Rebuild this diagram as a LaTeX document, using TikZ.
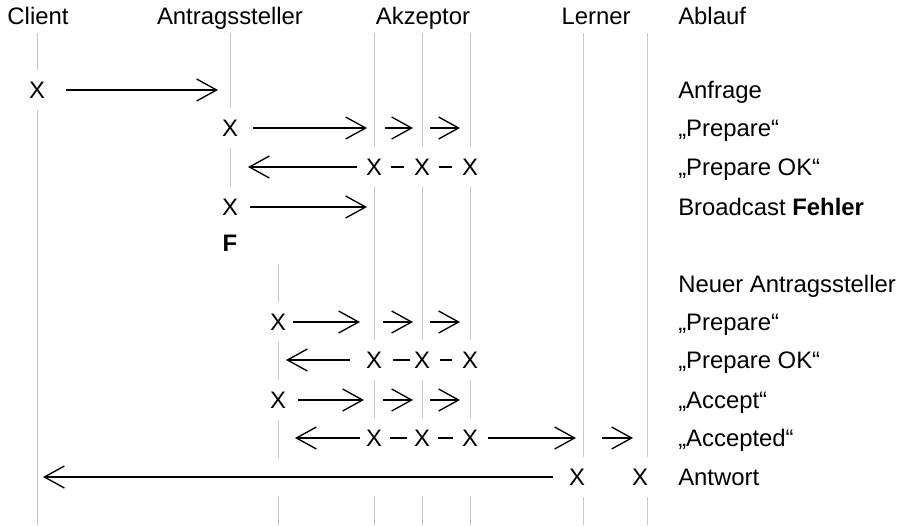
\documentclass[tikz,border=0pt]{standalone}
\usepackage{fontspec}
\setmainfont{Liberation Sans}
\usetikzlibrary{arrows.meta,positioning}

\begin{document}
\begin{tikzpicture}[
  x=0.75pt, y=-0.75pt,
  font=\fontsize{17.9pt}{21pt}\selectfont,
  txt/.style={inner sep=0pt, text height=12.8pt, text depth=0pt},
  head/.style={txt},
  lab/.style={txt, anchor=west},
  cross/.style={txt, fill=white, minimum height=30pt},
  life/.style={draw=black!22, line width=0.75pt},
  msg/.style={-{Straight Barb[length=15pt, width=16.5pt, line width=1pt]}, line width=1.5pt},
  dashlink/.style={line width=1.5pt},
  band/.style={draw=white, line width=28pt}
]
\useasboundingbox (0,0) rectangle (902,525);

% ---------------- lifelines ----------------
\coordinate (cl)  at (37,33);
\coordinate (as)  at (230,33);
\coordinate (nas) at (278,264);
\coordinate (ak1) at (374,33);
\coordinate (ak2) at (422,33);
\coordinate (ak3) at (470,33);
\coordinate (le1) at (583,33);
\coordinate (le2) at (647,33);
\coordinate (bot) at (0,525);

\foreach \p in {cl,nas,ak1,ak2,ak3,le1,le2}
  \draw[life] (\p) -- (\p |- bot);
\draw[life] (as) -- (230,187);

% ---------------- headings ----------------
\node[head] (hcl) at (38,16) {Client};
\node[head] (has) at (230,16) {Antragssteller};
\node[head] (hak) at (423,16) {Akzeptor};
\node[head] (hle) at (596,16) {Lerner};
\node[lab]  (hab) at (678,16) {Ablauf};

% ---------------- Ablauf column ----------------
\node[lab] (r1)  at (678,90)  {Anfrage};
\node[lab] (r2)  at (678,128) {„Prepare“};
\node[lab] (r3)  at (678,167) {„Prepare OK“};
\node[lab] (r4)  at (678,207) {Broadcast \textbf{Fehler}};
\node[lab] (r6)  at (678,284) {Neuer Antragssteller};
\node[lab] (r7)  at (678,322) {„Prepare“};
\node[lab] (r8)  at (678,360) {„Prepare OK“};
\node[lab] (r9)  at (678,400) {„Accept“};
\node[lab] (r10) at (678,438) {„Accepted“};
\node[lab] (r11) at (678,477) {Antwort};

% ---------------- first round ----------------
\node[cross] (c1) at (cl |- r1) {X};
\draw[msg, shorten <=15.5pt, shorten >=9pt] (c1) -- (as |- r1);

\node[cross] (p1) at (as |- r2) {X};
\draw[msg, shorten <=11.25pt, shorten >=5.25pt] (p1) -- (ak1 |- r2);
\draw[msg, shorten <=8.25pt, shorten >=6.75pt] (ak1 |- r2) -- (ak2 |- r2);
\draw[msg, shorten <=6pt, shorten >=7.5pt] (ak2 |- r2) -- (ak3 |- r2);

\node[cross] (o1) at (ak1 |- r3) {X};
\node[cross] (o2) at (ak2 |- r3) {X};
\node[cross] (o3) at (ak3 |- r3) {X};
\draw[msg, shorten <=6.75pt, shorten >=13.5pt] (o1) -- (as |- r3);
\draw[dashlink, shorten <=6.75pt, shorten >=7pt] (o1) -- (o2);
\draw[dashlink, shorten <=6.75pt, shorten >=7pt] (o2) -- (o3);

\node[cross] (b1) at (as |- r4) {X};
\draw[msg, shorten <=9pt, shorten >=5.25pt] (b1) -- (ak1 |- r4);

\node[txt] (fail) at (230,243) {\bfseries F};

% ---------------- new proposer ----------------
\node[cross] (q1) at (nas |- r7) {X};
\draw[msg, shorten <=5.25pt, shorten >=10.5pt] (q1) -- (ak1 |- r7);
\draw[msg, shorten <=6.75pt, shorten >=6.75pt] (ak1 |- r7) -- (ak2 |- r7);
\draw[msg, shorten <=6pt, shorten >=7.5pt] (ak2 |- r7) -- (ak3 |- r7);

\node[cross] (k1) at (ak1 |- r8) {X};
\node[cross] (k2) at (ak2 |- r8) {X};
\node[cross] (k3) at (ak3 |- r8) {X};
\draw[msg, shorten <=12pt, shorten >=6pt] (k1) -- (nas |- r8);
\draw[dashlink, shorten <=8.25pt, shorten >=3pt] (k1) -- (k2);
\draw[dashlink, shorten <=7.5pt, shorten >=7pt] (k2) -- (k3);

\node[cross] (m1) at (nas |- r9) {X};
\draw[msg, shorten <=9pt, shorten >=7.5pt] (m1) -- (ak1 |- r9);
\draw[msg, shorten <=6.75pt, shorten >=6.75pt] (ak1 |- r9) -- (ak2 |- r9);
\draw[msg, shorten <=6pt, shorten >=7.5pt] (ak2 |- r9) -- (ak3 |- r9);

\node[cross] (d1) at (ak1 |- r10) {X};
\node[cross] (d2) at (ak2 |- r10) {X};
\node[cross] (d3) at (ak3 |- r10) {X};
\draw[msg, shorten <=4.5pt, shorten >=12.75pt] (d1) -- (nas |- r10);
\draw[dashlink, shorten <=6pt, shorten >=5.25pt] (d1) -- (d2);
\draw[dashlink, shorten <=6pt, shorten >=6.75pt] (d2) -- (d3);
\draw[msg, shorten <=7.5pt, shorten >=5.25pt] (d3) -- (le1 |- r10);
\draw[msg, shorten <=14.25pt, shorten >=10.5pt] (le1 |- r10) -- (le2 |- r10);

% ---------------- answer ----------------
\node[cross] (w1) at ([xshift=-4.5pt]le1 |- r11) {X};
\node[cross] (w2) at ([xshift=-5.25pt]le2 |- r11) {X};
\draw[band, shorten <=12pt, shorten >=4.5pt] (w1) -- (cl |- r11);
\draw[msg, shorten <=12pt, shorten >=4.5pt] (w1) -- (cl |- r11);

\end{tikzpicture}
\end{document}
